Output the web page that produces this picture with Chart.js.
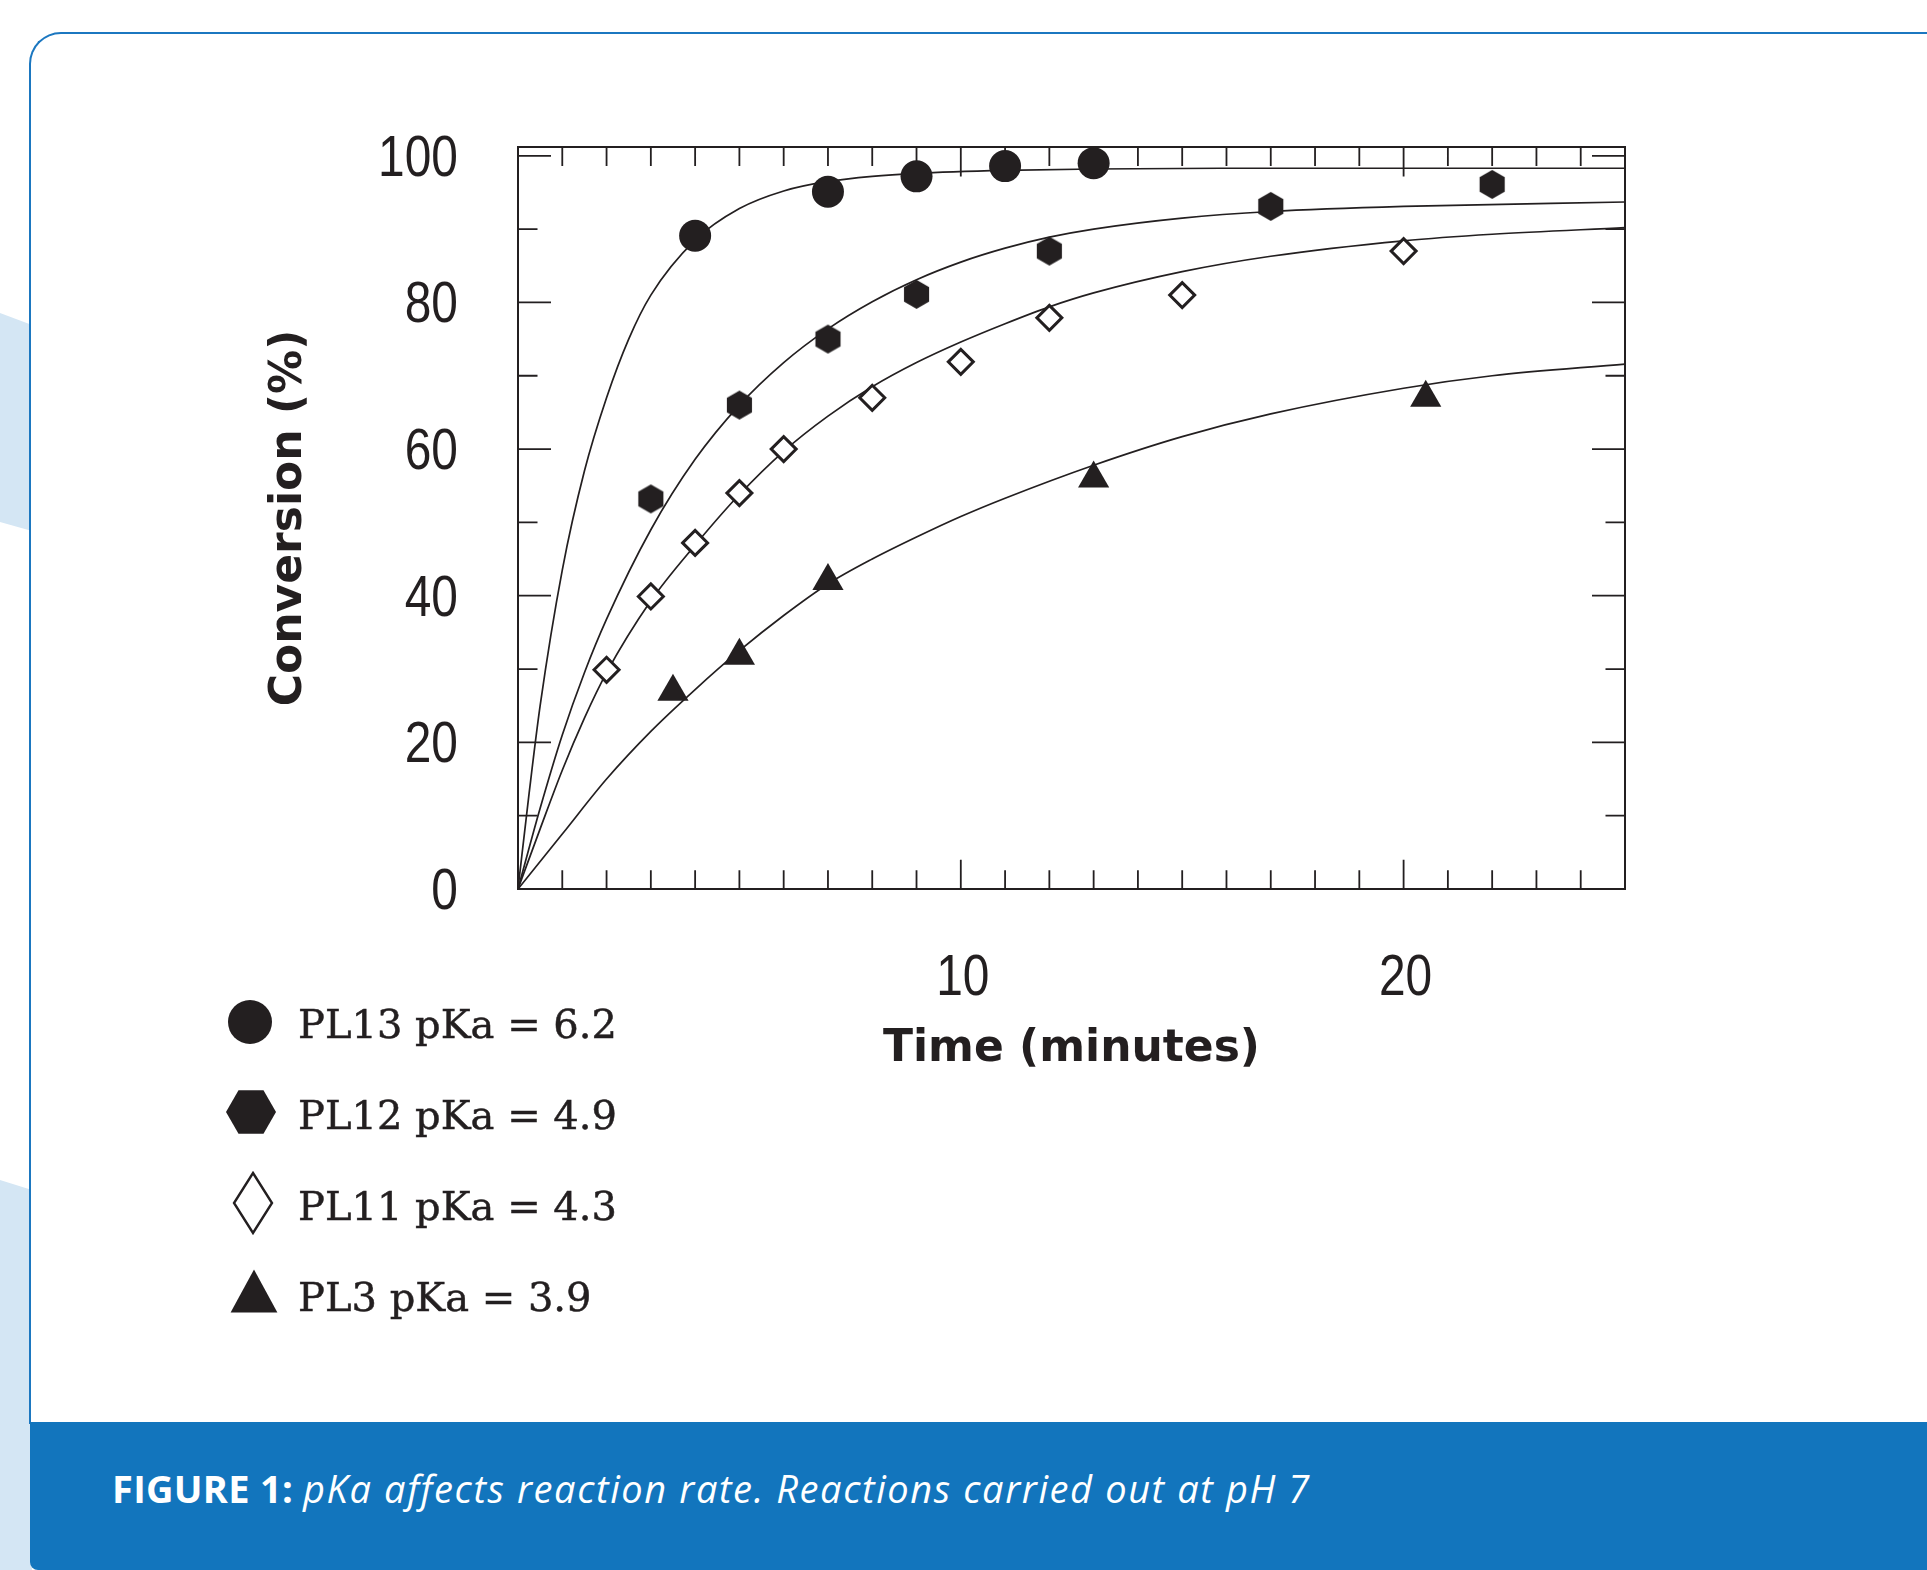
<!DOCTYPE html>
<html lang="en">
<head>
<meta charset="utf-8">
<title>pKa affects reaction rate</title>
<script src="https://cdn.jsdelivr.net/npm/chart.js@4.4.1/dist/chart.umd.min.js"></script>
<style>
  html, body { margin: 0; padding: 0; background: #fff; }
  body { position: relative; width: 1927px; height: 1570px; overflow: hidden; }
  .blob { position: absolute; left: 0; width: 32px; background: #d4e6f4; }
  #blobTop { top: 313px; height: 218px; clip-path: polygon(0 0, 100% 12px, 100% 100%, 0 calc(100% - 9px)); }
  #blobBottom { top: 1180px; height: 390px; clip-path: polygon(0 0, 100% 10px, 100% 100%, 0 100%); }
  #card {
    position: absolute; left: 29px; top: 32px; width: 1940px; height: 1392px; box-sizing: border-box;
    border-top: 2px solid #1b77c0; border-left: 2px solid #1b77c0; border-top-left-radius: 32px; background: #fff;
  }
  #caption { position: absolute; left: 30px; top: 1422px; width: 1897px; height: 148px; background: #1275bd; border-bottom-left-radius: 8px; }
  #caption p { position: absolute; left: 82px; top: 47px; margin: 0; font: 38px/38px 'Open Sans', sans-serif; color: #fff; white-space: nowrap; }
  #caption b { font-weight: 700; letter-spacing: 0.3px; }
  #caption i { letter-spacing: 1.6px; }
  #chartBox { position: absolute; left: 0; top: 0; width: 1927px; height: 1420px; }
  .legend-text { position: absolute; left: 298px; font: 40px/40px 'DejaVu Serif', serif; color: #231f20; white-space: nowrap; -webkit-text-stroke: 0.5px #231f20; }
  .legend-mark { position: absolute; width: 60px; height: 70px; }
</style>
</head>
<body>
<div class="blob" id="blobTop"></div>
<div class="blob" id="blobBottom"></div>
<div id="card"></div>
<div id="chartBox"><canvas id="kinetics" width="1927" height="1420"></canvas></div>
<div id="legend"></div>
<div id="caption"><p><b>FIGURE 1:</b> <i>pKa affects reaction rate. Reactions carried out at pH 7</i></p></div>

<script>
/* --- data --- */
const seriesNames = ['PL13 pKa = 6.2', 'PL12 pKa = 4.9', 'PL11 pKa = 4.3', 'PL3 pKa = 3.9'];
const seriesMarkers = ['circle', 'hexagon', 'diamond', 'triangle'];

// measured points (time in minutes, conversion in %)
const pl13Time = [4, 7, 9, 11, 13];
const pl13Conv = [89.1, 95.1, 97.2, 98.6, 99.0];
const pl12Time = [3, 5, 7, 9, 12, 17, 22];
const pl12Conv = [53.2, 66.0, 75.0, 81.1, 87.0, 93.1, 96.1];
const pl11Time = [2, 3, 4, 5, 6, 8, 10, 12, 15, 20];
const pl11Conv = [29.9, 39.9, 47.2, 54.0, 60.0, 67.0, 71.9, 77.9, 81.0, 87.0];
const pl3Time = [3.5, 5, 7, 13, 20.5];
const pl3Conv = [26.9, 31.8, 42.0, 56.0, 67.0];

// fitted curves
const fit13Time = [0, 0.25, 0.5, 1, 1.5, 2, 2.5, 3, 4, 5, 6, 7, 8, 9, 11, 13, 16, 20, 25];
const fit13Conv = [0, 13, 25, 43.5, 57, 67, 75, 81, 88.5, 92.8, 95.2, 96.5, 97.2, 97.6, 98.0, 98.2, 98.3, 98.3, 98.3];
const fit12Time = [0, 0.5, 1, 1.5, 2, 3, 4, 5, 6, 7, 8, 9, 10, 11, 12, 13, 15, 17, 20, 25];
const fit12Conv = [0, 11, 21, 29.5, 36.8, 49.0, 58.6, 66.0, 71.8, 76.4, 80.1, 83.1, 85.5, 87.4, 88.9, 90.0, 91.5, 92.4, 93.1, 93.7];
const fit11Time = [0, 0.5, 1, 1.5, 2, 3, 4, 5, 6, 7, 8, 9, 10, 11, 12, 13, 15, 17, 20, 22, 25];
const fit11Conv = [0, 8.2, 16.2, 23.3, 29.5, 39.3, 46.9, 53.8, 59.7, 64.5, 68.5, 71.8, 74.6, 77.1, 79.4, 81.3, 84.2, 86.3, 88.4, 89.3, 90.2];
const fit3Time = [0, 1, 2, 3, 4, 5, 6, 7, 8, 9, 10, 11, 13, 15, 17, 20, 22, 25];
const fit3Conv = [0, 7.5, 15, 21.5, 27.2, 32.5, 37.3, 41.6, 45.0, 48.0, 50.8, 53.3, 57.8, 61.7, 64.8, 68.3, 70.0, 71.6];

// axis ticks
const xTickLabels = [10, 20];
const yTickLabels = [0, 20, 40, 60, 80, 100];
const xMinorStep = 1;
const yMinorStep = 10;

const ink = '#231f20';
const toPoints = (xs, ys) => xs.map((x, i) => ({ x: x, y: ys[i] }));

// filled hexagon (pointy top) used as a point style
function hexagonImage(r) {
    const size = Math.ceil(2 * r) + 2;
    const c = document.createElement('canvas');
    c.width = size; c.height = size;
    const g = c.getContext('2d');
    g.fillStyle = ink;
    g.beginPath();
    for (let i = 0; i < 6; i++) {
        const a = -Math.PI / 2 + i * Math.PI / 3;
        g.lineTo(size / 2 + r * Math.cos(a), size / 2 + r * Math.sin(a));
    }
    g.closePath();
    g.fill();
    return c;
}

function curve(xs, ys) {
    return {
        data: toPoints(xs, ys),
        borderColor: ink,
        borderWidth: 1.7,
        pointRadius: 0,
        fill: false,
        cubicInterpolationMode: 'monotone',
        order: 1
    };
}

function markers(xs, ys, extra) {
    return Object.assign({
        data: toPoints(xs, ys),
        showLine: false,
        backgroundColor: ink,
        borderColor: ink,
        borderWidth: 0,
        clip: false,
        order: 0
    }, extra);
}

/* --- frame with inward ticks on all four sides --- */
const frameTicks = {
    id: 'frameTicks',
    beforeDatasetsDraw(chart) {
        const { ctx, chartArea: a, scales: { x, y } } = chart;
        ctx.save();
        ctx.strokeStyle = ink;
        ctx.lineWidth = 2;
        ctx.strokeRect(a.left, a.top, a.right - a.left, a.bottom - a.top);

        ctx.lineWidth = 1.8;
        ctx.beginPath();
        for (let t = x.min + xMinorStep; t < x.max; t += xMinorStep) {
            const px = x.getPixelForValue(t);
            const major = xTickLabels.includes(t);
            ctx.moveTo(px, a.bottom);
            ctx.lineTo(px, a.bottom - (major ? 29.3 : 18.7));
            ctx.moveTo(px, a.top);
            ctx.lineTo(px, a.top + (major ? 29.5 : 19));
        }
        for (let v = yMinorStep; v <= 100; v += yMinorStep) {
            const py = y.getPixelForValue(v);
            const len = yTickLabels.includes(v) ? 33 : 19.5;
            ctx.moveTo(a.left, py);
            ctx.lineTo(a.left + len, py);
            ctx.moveTo(a.right, py);
            ctx.lineTo(a.right - len, py);
        }
        ctx.stroke();
        ctx.restore();
    }
};

/* --- tick labels in a narrow face: the scale's own ticks, squeezed sideways --- */
const labelFont = "57px 'Liberation Sans', Arial, sans-serif";
const labelSqueeze = 0.84;
const condensedLabels = {
    id: 'condensedLabels',
    afterDraw(chart) {
        const { ctx, chartArea: a, scales: { x, y } } = chart;
        ctx.save();
        ctx.fillStyle = ink;
        ctx.font = labelFont;
        ctx.textBaseline = 'alphabetic';
        y.ticks.forEach(t => {
            ctx.save();
            ctx.translate(a.left - 60, y.getPixelForValue(t.value) + 20);
            ctx.scale(labelSqueeze, 1);
            ctx.textAlign = 'right';
            ctx.fillText(String(t.value), 0, 0);
            ctx.restore();
        });
        x.ticks.forEach(t => {
            ctx.save();
            ctx.translate(x.getPixelForValue(t.value) + 2, a.bottom + 106);
            ctx.scale(labelSqueeze, 1);
            ctx.textAlign = 'center';
            ctx.fillText(String(t.value), 0, 0);
            ctx.restore();
        });
        ctx.restore();
    }
};

const titleFont = { family: "'DejaVu Sans', sans-serif", size: 44, weight: 'bold' };

new Chart(document.getElementById('kinetics'), {
    type: 'line',
    data: {
        datasets: [
            markers(pl13Time, pl13Conv, { pointStyle: 'circle', pointRadius: 16 }),
            markers(pl12Time, pl12Conv, { pointStyle: hexagonImage(14.5), pointRadius: 15 }),
            markers(pl11Time, pl11Conv, { pointStyle: 'rectRot', pointRadius: 12.5, backgroundColor: '#fff', borderWidth: 3 }),
            markers(pl3Time, pl3Conv, { pointStyle: 'triangle', pointRadius: 18 }),
            curve(fit13Time, fit13Conv),
            curve(fit12Time, fit12Conv),
            curve(fit11Time, fit11Conv),
            curve(fit3Time, fit3Conv)
        ]
    },
    options: {
        responsive: false,
        animation: false,
        layout: { padding: { left: 0, top: 147, right: 302, bottom: 0 } },
        plugins: { legend: { display: false }, tooltip: { enabled: false } },
        scales: {
            x: {
                type: 'linear', min: 0, max: 25,
                grid: { display: false, drawTicks: false },
                border: { display: false },
                afterBuildTicks: s => { s.ticks = xTickLabels.map(v => ({ value: v })); },
                afterFit: s => { s.height = 531; },
                ticks: { display: false },
                title: { display: true, text: 'Time (minutes)', font: titleFont, color: ink, padding: { top: 0, bottom: 344 } }
            },
            y: {
                type: 'linear', min: 0, max: 101.2,
                grid: { display: false, drawTicks: false },
                border: { display: false },
                afterBuildTicks: s => { s.ticks = yTickLabels.map(v => ({ value: v })); },
                afterFit: s => { s.width = 518; },
                ticks: { display: false },
                title: { display: true, text: 'Conversion (%)', font: titleFont, color: ink, padding: { top: 263, bottom: 0 } }
            }
        }
    },
    plugins: [frameTicks, condensedLabels]
});

/* --- legend (bottom left, outside the plot) --- */
const legendBox = document.getElementById('legend');
const legendTop = 1022.8;   // cap centre of the first row
const legendStep = 91.1;
const markSvg = {
    circle:   { cx: 250,   dy: -0.8, body: `<circle cx="30" cy="35" r="22" fill="${ink}"/>` },
    hexagon:  { cx: 250.6, dy: -1.8, body: `<polygon points="55,35 42.5,56.7 17.5,56.7 5,35 17.5,13.3 42.5,13.3" fill="${ink}"/>` },
    diamond:  { cx: 253,   dy: -1.7, body: `<polygon points="30,5 49,35 30,65 11,35" fill="#fff" stroke="${ink}" stroke-width="2.4"/>` },
    triangle: { cx: 254.2, dy: -5.5, body: `<polygon points="30,13.6 53.4,56.4 6.6,56.4" fill="${ink}"/>` }
};
seriesNames.forEach((name, i) => {
    const mid = legendTop + i * legendStep;
    const m = markSvg[seriesMarkers[i]];
    const mark = document.createElementNS('http://www.w3.org/2000/svg', 'svg');
    mark.setAttribute('class', 'legend-mark');
    mark.setAttribute('viewBox', '0 0 60 70');
    mark.style.left = (m.cx - 30) + 'px';
    mark.style.top = (mid + m.dy - 35) + 'px';
    mark.innerHTML = m.body;
    legendBox.appendChild(mark);

    const label = document.createElement('div');
    label.className = 'legend-text';
    label.style.top = (mid - 19.3) + 'px';
    label.textContent = name;
    legendBox.appendChild(label);
});
</script>
</body>
</html>
